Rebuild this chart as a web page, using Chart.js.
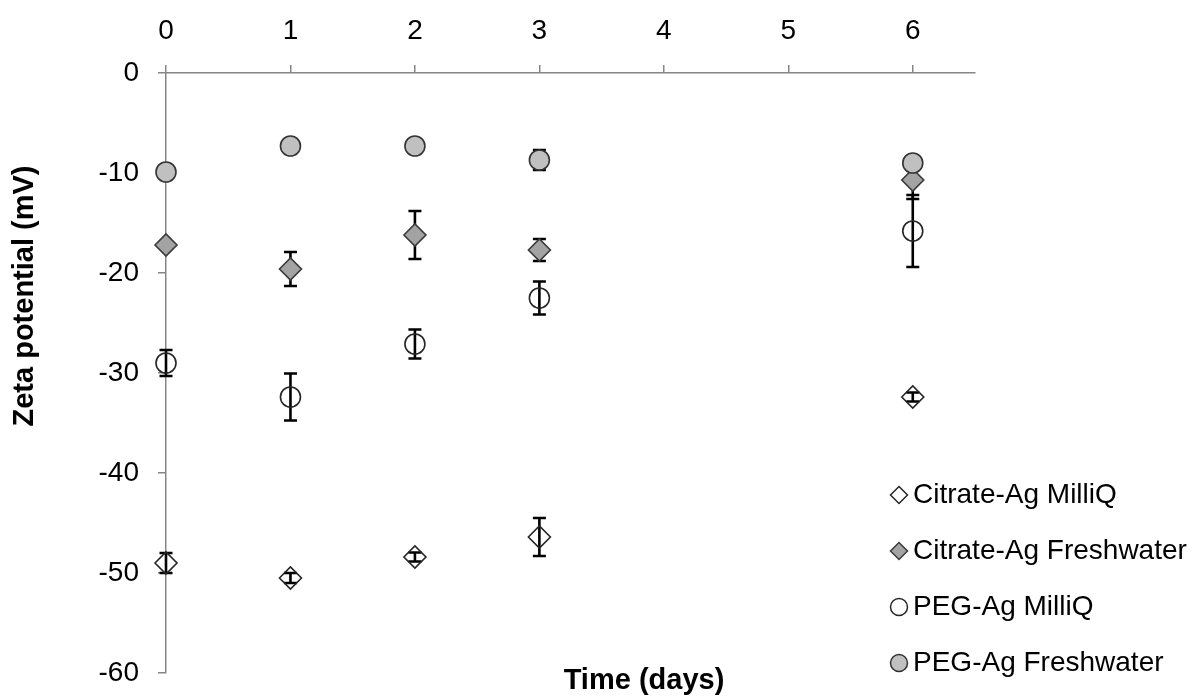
<!DOCTYPE html>
<html>
<head>
<meta charset="utf-8">
<script src="https://cdn.jsdelivr.net/npm/chart.js@4/dist/chart.umd.min.js"></script>
<style>
  html, body { margin: 0; padding: 0; background: #fff; }
  #wrap { position: relative; width: 1201px; height: 696px; }
</style>
</head>
<body>
<div id="wrap"><canvas id="chart" width="1201" height="696"></canvas></div>
<script>
// Sampling days
const days = [0, 1, 2, 3, 6];

// Zeta potential means (mV) and standard deviations
const citrateMilliQ     = [-49.0, -50.5, -48.4, -46.4, -32.4];
const citrateMilliQErr  = [1.0, 0.5, 0.45, 1.9, 0.45];
const citrateFresh      = [-17.2, -19.6, -16.2, -17.7, -10.7];
const citrateFreshErr   = [0.3, 1.7, 2.4, 1.1, 1.9];
const pegMilliQ         = [-29.0, -32.4, -27.1, -22.5, -15.8];
const pegMilliQErr      = [1.3, 2.35, 1.45, 1.65, 3.6];
const pegFresh          = [-9.9, -7.3, -7.3, -8.7, -9.0];
const pegFreshErr       = [0.3, 0.3, 0.3, 1.0, 0.3];

const seriesNames = ['Citrate-Ag MilliQ', 'Citrate-Ag Freshwater', 'PEG-Ag MilliQ', 'PEG-Ag Freshwater'];
const xTickValues = [0, 1, 2, 3, 4, 5, 6];
const yTickValues = [0, -10, -20, -30, -40, -50, -60];

const FONT = "'Liberation Sans', Arial, sans-serif";
const AXIS_GREY = '#868686';

const seriesValues = [citrateMilliQ, citrateFresh, pegMilliQ, pegFresh];
const seriesErrors = [citrateMilliQErr, citrateFreshErr, pegMilliQErr, pegFreshErr];

const styles = [
  { pointStyle: 'rectRot', radius: 11, fill: 'rgba(0,0,0,0)', stroke: '#262626' },
  { pointStyle: 'rectRot', radius: 11, fill: '#a3a3a3', stroke: '#3a3a3a' },
  { pointStyle: 'circle',  radius: 10, fill: 'rgba(0,0,0,0)', stroke: '#262626' },
  { pointStyle: 'circle',  radius: 10, fill: '#c0c0c0', stroke: '#333333' }
];

const datasets = seriesNames.map((name, k) => ({
  label: name,
  data: days.map((d, i) => ({ x: d, y: seriesValues[k][i] })),
  errors: seriesErrors[k],
  pointStyle: styles[k].pointStyle,
  pointRadius: styles[k].radius,
  pointHoverRadius: styles[k].radius,
  pointBackgroundColor: styles[k].fill,
  pointBorderColor: styles[k].stroke,
  pointBorderWidth: 1.6,
  showLine: false,
  clip: false,
  order: seriesNames.length - k   // later series drawn on top
}));

// Vertical error bars with caps, drawn just beneath each series' markers
const errorBars = {
  id: 'errorBars',
  beforeDatasetDraw(chart, args) {
    const ds = chart.data.datasets[args.index];
    const { x, y } = chart.scales;
    const ctx = chart.ctx;
    ctx.save();
    ctx.strokeStyle = '#000';
    ctx.lineWidth = 2.6;
    ds.data.forEach((p, i) => {
      const e = ds.errors[i];
      if (!e) return;
      const px = x.getPixelForValue(p.x);
      const top = y.getPixelForValue(p.y + e);
      const bot = y.getPixelForValue(p.y - e);
      const cap = 6.5;
      ctx.beginPath();
      ctx.moveTo(px, top); ctx.lineTo(px, bot);
      ctx.moveTo(px - cap, top); ctx.lineTo(px + cap, top);
      ctx.moveTo(px - cap, bot); ctx.lineTo(px + cap, bot);
      ctx.stroke();
    });
    ctx.restore();
  }
};

// Axis titles and the legend block
const annotations = {
  id: 'annotations',
  afterDraw(chart) {
    const ctx = chart.ctx;
    ctx.save();
    ctx.fillStyle = '#000';
    ctx.font = `bold 29px ${FONT}`;
    ctx.textAlign = 'center';
    ctx.textBaseline = 'middle';
    ctx.fillText('Time (days)', 644, 681);
    ctx.save();
    ctx.translate(25, 296);
    ctx.rotate(-Math.PI / 2);
    ctx.fillText('Zeta potential (mV)', 0, 0);
    ctx.restore();

    const rowY = [495, 551, 607, 663];
    ctx.font = `28px ${FONT}`;
    ctx.textAlign = 'left';
    chart.data.datasets.forEach((ds, k) => {
      const cx = 899, cy = rowY[k];
      ctx.beginPath();
      if (ds.pointStyle === 'circle') {
        ctx.arc(cx, cy, 8.5, 0, Math.PI * 2);
      } else {
        const r = 8.5;
        ctx.moveTo(cx, cy - r); ctx.lineTo(cx + r, cy);
        ctx.lineTo(cx, cy + r); ctx.lineTo(cx - r, cy); ctx.closePath();
      }
      ctx.fillStyle = ds.pointBackgroundColor;
      ctx.fill();
      ctx.lineWidth = 1.5;
      ctx.strokeStyle = ds.pointBorderColor;
      ctx.stroke();
      ctx.fillStyle = '#000';
      ctx.fillText(ds.label, 913, cy);
    });
    ctx.restore();
  }
};

const axisGrid = {
  drawOnChartArea: false,
  drawTicks: true,
  tickLength: 8,
  color: AXIS_GREY,
  lineWidth: 1.5
};

// Fixed axis boxes so the plot area spans exactly the intended region
function clearLabelPadding(scale) {
  scale.paddingTop = 0;
  scale.paddingBottom = 0;
  scale.paddingLeft = 0;
  scale.paddingRight = 0;
}

new Chart(document.getElementById('chart'), {
  type: 'scatter',
  data: { datasets },
  options: {
    responsive: false,
    devicePixelRatio: 1,
    animation: false,
    layout: { padding: { left: 0, top: 0, right: 226, bottom: 23 } },
    plugins: {
      legend: { display: false },
      tooltip: { enabled: false }
    },
    scales: {
      x: {
        type: 'linear',
        position: 'top',
        min: 0,
        max: 6.5,
        afterBuildTicks(scale) {
          scale.ticks = xTickValues.map(v => ({ value: v }));
        },
        afterFit(scale) { scale.height = 73; clearLabelPadding(scale); },
        ticks: {
          font: { family: FONT, size: 28 },
          color: '#000',
          padding: 17,
          maxRotation: 0,
          autoSkip: false
        },
        grid: axisGrid,
        border: { color: AXIS_GREY, width: 1.5 }
      },
      y: {
        type: 'linear',
        position: 'left',
        min: -60,
        max: 0,
        afterBuildTicks(scale) {
          scale.ticks = yTickValues.map(v => ({ value: v }));
        },
        afterFit(scale) { scale.width = 166; clearLabelPadding(scale); },
        ticks: {
          font: { family: FONT, size: 28 },
          color: '#000',
          padding: 19,
          autoSkip: false
        },
        grid: axisGrid,
        border: { color: AXIS_GREY, width: 1.5 }
      }
    }
  },
  plugins: [errorBars, annotations]
});
</script>
</body>
</html>
